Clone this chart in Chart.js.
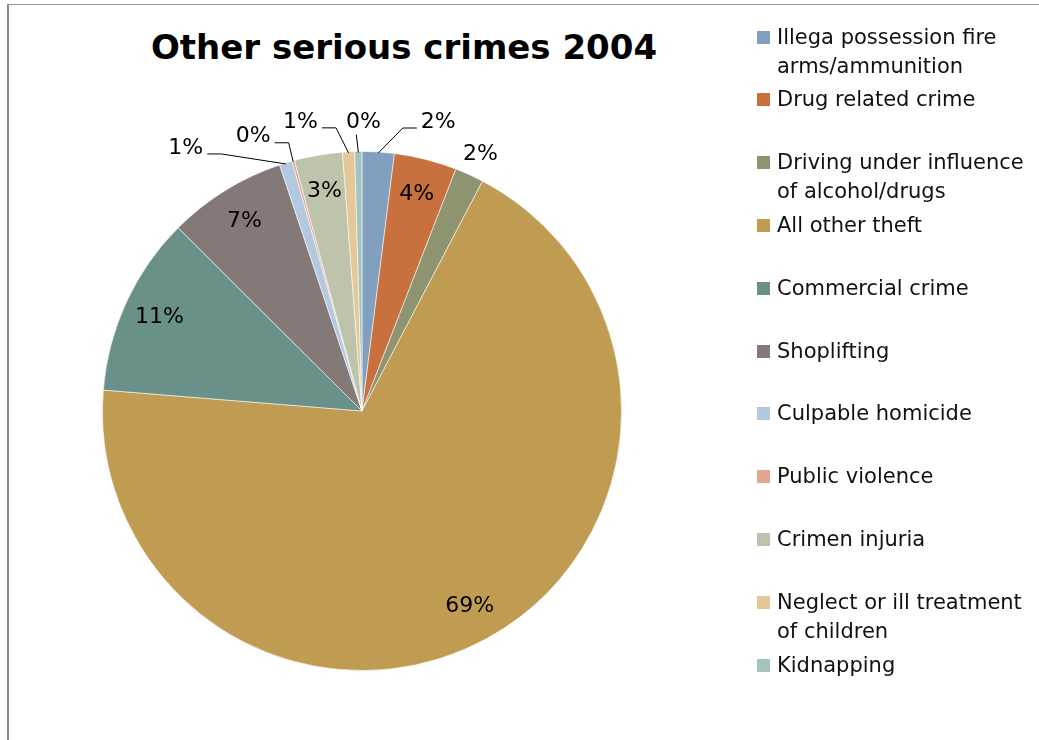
<!DOCTYPE html>
<html>
<head>
<meta charset="utf-8">
<script src="https://cdn.jsdelivr.net/npm/chart.js@4/dist/chart.umd.min.js"></script>
<style>
  html, body { margin: 0; padding: 0; background: #fff; }
  #wrap { position: relative; width: 1039px; height: 740px; overflow: hidden; font-family: "DejaVu Sans", sans-serif; }
  #frame { position: absolute; left: 7px; top: 4px; right: -10px; bottom: -10px; border-left: 2px solid #8a8a8a; border-top: 1px solid #9a9a9a; }
  #title { position: absolute; left: 0; width: 808px; top: 27px; text-align: center; font-size: 34px; font-weight: bold; color: #000; }
  #pie { position: absolute; left: 0; top: 0; }
  #legend { position: absolute; left: 757px; top: 0; }
  .item { position: absolute; left: 0; width: 280px; font-size: 21px; line-height: 29px; color: #111; }
  .item .box { position: absolute; left: 0; top: 8px; width: 13px; height: 13px; }
  .item .txt { position: absolute; left: 20px; white-space: nowrap; }
</style>
</head>
<body>
<div id="wrap">
  <div id="frame"></div>
  <div id="title">Other serious crimes 2004</div>
  <canvas id="pie" width="1039" height="740"></canvas>
  <div id="legend"></div>
</div>
<script>
// categories (legend text, split where the lines break)
const categories = [
  ['Illega possession fire', 'arms/ammunition'],
  ['Drug related crime'],
  ['Driving under influence', 'of alcohol/drugs'],
  ['All other theft'],
  ['Commercial crime'],
  ['Shoplifting'],
  ['Culpable homicide'],
  ['Public violence'],
  ['Crimen injuria'],
  ['Neglect or ill treatment', 'of children'],
  ['Kidnapping']
];

// share of cases, percent
const shares = [2.0, 3.9, 1.8, 68.7, 11.2, 7.4, 0.8, 0.15, 3.0, 0.75, 0.45];

const sliceColors = [
  '#819fbe', '#c8703e', '#8f9470', '#c09c52', '#6a9189', '#837a78',
  '#b2c9df', '#e4a68e', '#bec3ab', '#e5c898', '#a5c4bf'
];

// small slices get their label outside; offset from the middle of the arc edge
const outsideLabels = {
  0: { dx: 60, dy: -30, leader: 'right' },
  2: { dx: 11, dy: -20, leader: null },
  6: { dx: -100, dy: -15, leader: 'left' },
  7: { dx: -40, dy: -24, leader: 'left' },
  9: { dx: -48, dy: -30, leader: 'left' },
  10: { dx: 5, dy: -29, leader: 'up' }
};

const labelFont = '22px "DejaVu Sans", sans-serif';

const pieLabels = {
  id: 'pieLabels',
  afterDatasetsDraw(chart) {
    const ctx = chart.ctx;
    const data = chart.data.datasets[0].data;
    const total = data.reduce((a, b) => a + b, 0);
    const arcs = chart.getDatasetMeta(0).data;
    ctx.save();
    ctx.font = labelFont;
    ctx.fillStyle = '#000';
    ctx.textAlign = 'center';
    ctx.textBaseline = 'middle';
    ctx.strokeStyle = '#000';
    ctx.lineWidth = 1;
    arcs.forEach((arc, i) => {
      const text = Math.round(data[i] / total * 100) + '%';
      const mid = (arc.startAngle + arc.endAngle) / 2;
      const r = arc.outerRadius;
      const out = outsideLabels[i];
      if (!out) {
        ctx.fillText(text, arc.x + Math.cos(mid) * r * 0.86, arc.y + Math.sin(mid) * r * 0.86);
        return;
      }
      const ex = arc.x + Math.cos(mid) * r;
      const ey = arc.y + Math.sin(mid) * r;
      const tx = ex + out.dx;
      const ty = ey + out.dy;
      ctx.fillText(text, tx, ty);
      if (!out.leader) return;
      const w = ctx.measureText(text).width;
      ctx.beginPath();
      ctx.moveTo(ex, ey + 1);
      if (out.leader === 'up') {
        ctx.lineTo(ex - 2, ty + 12);
      } else {
        const sign = out.leader === 'right' ? -1 : 1;
        const endX = tx + sign * (w / 2 + 4);
        const lineY = ty + 6;
        ctx.lineTo(endX + sign * 14, lineY);
        ctx.lineTo(endX, lineY);
      }
      ctx.stroke();
    });
    ctx.restore();
  }
};

const chart = new Chart(document.getElementById('pie'), {
  type: 'pie',
  data: {
    labels: categories,
    datasets: [{
      data: shares,
      backgroundColor: sliceColors,
      borderColor: 'rgba(255,255,255,0.55)',
      borderWidth: 1
    }]
  },
  options: {
    responsive: false,
    animation: false,
    layout: { padding: { left: 102, top: 151, right: 417, bottom: 69 } },
    plugins: {
      legend: { display: false },
      tooltip: { enabled: false }
    }
  },
  plugins: [pieLabels]
});

// legend, one row per category at a fixed pitch
const legend = document.getElementById('legend');
categories.forEach((lines, i) => {
  const item = document.createElement('div');
  item.className = 'item';
  item.style.top = (37 - 14.5 + i * 62.8) + 'px';
  const box = document.createElement('div');
  box.className = 'box';
  box.style.background = sliceColors[i];
  const txt = document.createElement('div');
  txt.className = 'txt';
  txt.innerHTML = lines.join('<br>');
  item.appendChild(box);
  item.appendChild(txt);
  legend.appendChild(item);
});
</script>
</body>
</html>
